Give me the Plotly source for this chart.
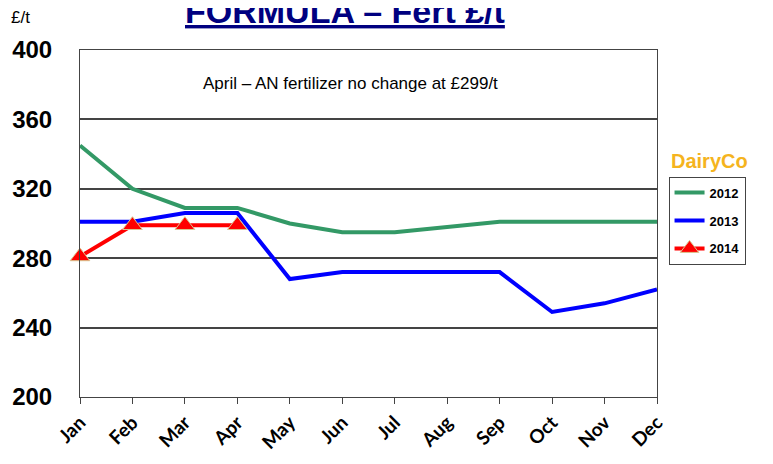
import plotly.graph_objects as go

# Fertiliser price (£/t) by month
months = ['Jan', 'Feb', 'Mar', 'Apr', 'May', 'Jun', 'Jul', 'Aug', 'Sep', 'Oct', 'Nov', 'Dec']
fert_2012 = [345, 320, 309, 309, 300, 295, 295, 298, 301, 301, 301, 301]
fert_2013 = [301, 301, 306, 306, 268, 272, 272, 272, 272, 249, 254, 262]
fert_2014 = [281, 299, 299, 299]

x_idx = list(range(len(months)))

fig = go.Figure()

fig.add_trace(go.Scatter(
    x=x_idx, y=fert_2012, name='2012', mode='lines',
    line=dict(color='#339966', width=4), legendgroup='a'
))
fig.add_trace(go.Scatter(
    x=x_idx, y=fert_2013, name='2013', mode='lines',
    line=dict(color='#0000FF', width=4), legendgroup='b'
))
fig.add_trace(go.Scatter(
    x=x_idx[:len(fert_2014)], y=fert_2014, name='2014', mode='lines+markers',
    line=dict(color='#FF0000', width=4),
    marker=dict(symbol='triangle-up', size=17, color='#FF0000',
                line=dict(color='#D8C890', width=1)),
    legendgroup='c', cliponaxis=False
))

# page body has an 8px margin, so the figure is a bit smaller than the window
fig.update_layout(
    width=765, height=456,
    margin=dict(l=72, r=116, t=42, b=67, autoexpand=False),
    paper_bgcolor='white', plot_bgcolor='white',
    font=dict(family='Liberation Sans', color='black'),
    showlegend=True,
    legend=dict(
        x=1.02, y=0.635, xanchor='left', yanchor='top',
        bordercolor='#444', borderwidth=1, bgcolor='white',
        font=dict(family='Liberation Sans', size=13, color='black', weight='bold'),
        tracegroupgap=8, itemwidth=30,
    ),
    xaxis=dict(
        range=[0, 11], tickvals=x_idx, ticktext=months, tickangle=-45,
        showgrid=False, zeroline=False,
        showline=True, linecolor='#444', linewidth=1, mirror=True,
        ticks='outside', ticklen=6, tickcolor='#444',
        tickfont=dict(family='Lato', size=19, color='black', weight='bold'),
    ),
    yaxis=dict(
        range=[200, 400], dtick=40, tick0=200,
        showgrid=True, gridcolor='#444', gridwidth=1.5, zeroline=False,
        showline=True, linecolor='#444', linewidth=1, mirror=True,
        ticks='', ticklabelstandoff=22,
        tickfont=dict(family='Liberation Sans', size=24, color='black', weight='bold'),
    ),
)

# title (cut off at top in the original)
fig.add_annotation(
    text='<u>FORMULA – Fert £/t</u>', xref='paper', yref='paper',
    x=(345 - 80) / 577, y=(397 - 11) / 347, xanchor='center', yanchor='middle',
    showarrow=False, font=dict(family='Liberation Sans', size=34, color='#000080', weight='bold'),
)
fig.add_annotation(
    text='£/t', xref='paper', yref='paper',
    x=(20 - 80) / 577, y=(397 - 18) / 347, xanchor='center', yanchor='middle',
    showarrow=False, font=dict(family='Liberation Sans', size=17, color='black'),
)
fig.add_annotation(
    text='April – AN fertilizer no change at £299/t', xref='paper', yref='paper',
    x=(350 - 80) / 577, y=(397 - 83) / 347, xanchor='center', yanchor='middle',
    showarrow=False, font=dict(family='Liberation Sans', size=17, color='black'),
)
fig.add_annotation(
    text='DairyCo', xref='paper', yref='paper',
    x=(709 - 80) / 577, y=(397 - 161) / 347, xanchor='center', yanchor='middle',
    showarrow=False, font=dict(family='Liberation Sans', size=20, color='#F5B41E', weight='bold'),
)
# edge of a box cut off on the left
fig.add_shape(
    type='rect', xref='paper', yref='paper',
    x0=-0.2, x1=(3 - 80) / 577, y0=(397 - 245) / 347, y1=(397 - 172) / 347,
    line=dict(color='#444', width=1),
)

fig.write_html("out.html")
